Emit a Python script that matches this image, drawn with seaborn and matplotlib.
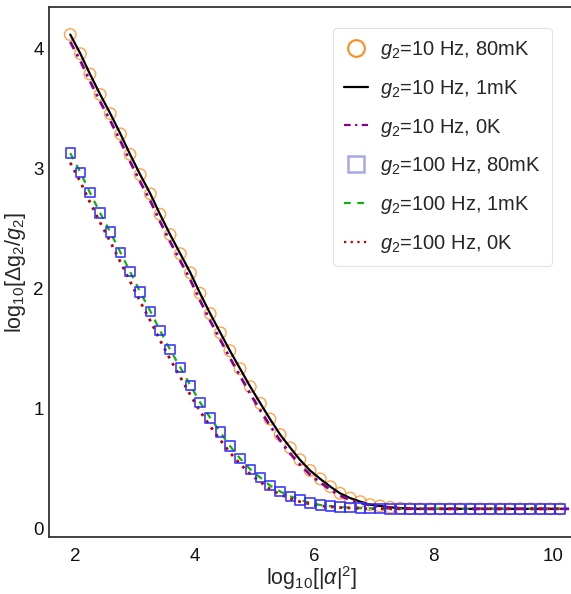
import matplotlib
matplotlib.use("Agg")
import matplotlib.pyplot as plt
from matplotlib.lines import Line2D
import seaborn as sns
import numpy as np

# ---- data ----
x_vals = [1.92, 2.09, 2.25, 2.42, 2.59, 2.76, 2.92, 3.09, 3.26, 3.42,
          3.59, 3.76, 3.93, 4.09, 4.26, 4.43, 4.59, 4.76, 4.93, 5.10,
          5.26, 5.43, 5.60, 5.76, 5.93, 6.10, 6.27, 6.43, 6.60, 6.77,
          6.93, 7.10, 7.27, 7.44, 7.60, 7.77, 7.94, 8.10, 8.27, 8.44,
          8.61, 8.77, 8.94, 9.11, 9.27, 9.44, 9.61, 9.78, 9.94, 10.11]

g10_80mK = [4.12, 3.96, 3.79, 3.62, 3.46, 3.29, 3.12, 2.95, 2.79, 2.62,
            2.45, 2.29, 2.13, 1.96, 1.79, 1.63, 1.48, 1.33, 1.18, 1.04,
            0.91, 0.78, 0.67, 0.57, 0.48, 0.41, 0.345, 0.29, 0.25, 0.22,
            0.195, 0.184, 0.173, 0.166, 0.162, 0.16, 0.16, 0.16, 0.16, 0.16,
            0.16, 0.16, 0.16, 0.16, 0.16, 0.16, 0.16, 0.16, 0.16, 0.16]

g10_1mK = [4.12, 3.96, 3.79, 3.62, 3.46, 3.29, 3.12, 2.95, 2.79, 2.62,
           2.45, 2.29, 2.13, 1.96, 1.79, 1.63, 1.48, 1.33, 1.18, 1.04,
           0.91, 0.78, 0.67, 0.57, 0.48, 0.41, 0.345, 0.29, 0.25, 0.22,
           0.195, 0.184, 0.173, 0.166, 0.162, 0.16, 0.16, 0.16, 0.16, 0.16,
           0.16, 0.16, 0.16, 0.16, 0.16, 0.16, 0.16, 0.16, 0.16, 0.16]

g10_0K = [4.06, 3.90, 3.73, 3.56, 3.40, 3.23, 3.06, 2.89, 2.73, 2.56,
          2.39, 2.23, 2.07, 1.90, 1.73, 1.57, 1.42, 1.27, 1.12, 0.98,
          0.855, 0.73, 0.62, 0.53, 0.445, 0.38, 0.32, 0.27, 0.235, 0.21,
          0.19, 0.178, 0.17, 0.164, 0.161, 0.16, 0.16, 0.16, 0.16, 0.16,
          0.16, 0.16, 0.16, 0.16, 0.16, 0.16, 0.16, 0.16, 0.16, 0.16]

g100_80mK = [3.13, 2.97, 2.80, 2.63, 2.47, 2.30, 2.14, 1.97, 1.81, 1.65,
             1.49, 1.34, 1.19, 1.05, 0.92, 0.80, 0.685, 0.58, 0.49, 0.42,
             0.355, 0.305, 0.265, 0.235, 0.21, 0.192, 0.183, 0.175, 0.17, 0.166,
             0.164, 0.162, 0.16, 0.16, 0.16, 0.16, 0.16, 0.16, 0.16, 0.16,
             0.16, 0.16, 0.16, 0.16, 0.16, 0.16, 0.16, 0.16, 0.16, 0.16]

g100_1mK = [3.13, 2.97, 2.80, 2.63, 2.47, 2.30, 2.14, 1.97, 1.81, 1.65,
            1.49, 1.34, 1.19, 1.05, 0.92, 0.80, 0.685, 0.58, 0.49, 0.42,
            0.355, 0.305, 0.265, 0.235, 0.21, 0.192, 0.183, 0.175, 0.17, 0.166,
            0.164, 0.162, 0.16, 0.16, 0.16, 0.16, 0.16, 0.16, 0.16, 0.16,
            0.16, 0.16, 0.16, 0.16, 0.16, 0.16, 0.16, 0.16, 0.16, 0.16]

g100_0K = [3.05, 2.89, 2.72, 2.55, 2.39, 2.22, 2.06, 1.89, 1.73, 1.57,
           1.41, 1.26, 1.11, 0.975, 0.85, 0.735, 0.63, 0.535, 0.45, 0.385,
           0.325, 0.28, 0.245, 0.22, 0.20, 0.185, 0.177, 0.171, 0.167, 0.164,
           0.162, 0.161, 0.16, 0.16, 0.16, 0.16, 0.16, 0.16, 0.16, 0.16,
           0.16, 0.16, 0.16, 0.16, 0.16, 0.16, 0.16, 0.16, 0.16, 0.16]

# the 0 K line continues a little past the last marker
x_tail = [10.40]
g10_0K_tail = [0.16]

labels = [r"$g_2$=10 Hz, 80mK", r"$g_2$=10 Hz, 1mK", r"$g_2$=10 Hz, 0K",
          r"$g_2$=100 Hz, 80mK", r"$g_2$=100 Hz, 1mK", r"$g_2$=100 Hz, 0K"]

x_ticks = [2, 4, 6, 8, 10]
y_ticks = [0, 1, 2, 3, 4]

# ---- style ----
sns.set_style("white")
plt.rcParams["font.family"] = ["Liberation Sans", "DejaVu Sans"]
plt.rcParams["mathtext.fontset"] = "custom"
plt.rcParams["mathtext.rm"] = "Liberation Sans"
plt.rcParams["mathtext.it"] = "Liberation Sans:italic"
plt.rcParams["mathtext.bf"] = "Liberation Sans:bold"

fig = plt.figure(figsize=(5.71, 5.94), dpi=100)
ax = fig.add_axes([49.3 / 571, 57 / 594, (575 - 49.3) / 571, (537 - 7) / 594])

orange = "#ff8c1a"
blue = "#2a2aff"

sns.lineplot(x=x_vals, y=g10_1mK, ax=ax, color="black", lw=1.6,
             linestyle="-", zorder=3)
sns.lineplot(x=x_vals + x_tail, y=g10_0K + g10_0K_tail, ax=ax, color="#8b008b",
             lw=2.0, linestyle=(0, (3, 2, 1, 2)), zorder=4)
sns.lineplot(x=x_vals, y=g100_1mK, ax=ax, color="#10b010", lw=1.6,
             linestyle=(0, (3, 3)), zorder=3)
sns.lineplot(x=x_vals, y=g100_0K, ax=ax, color="#c00000", lw=2.0,
             linestyle=(0, (1, 2)), zorder=4)

sns.scatterplot(x=x_vals, y=g10_80mK, ax=ax, marker="o", s=8.3 ** 2,
                facecolor="none", edgecolor=orange, linewidth=1.0, alpha=0.8,
                zorder=2)
sns.scatterplot(x=x_vals, y=g100_80mK, ax=ax, marker="s", s=6.8 ** 2,
                facecolor="none", edgecolor=blue, linewidth=1.3, alpha=0.85,
                zorder=5)

ax.set_xlim(1.57, 10.36)
ax.set_ylim(-0.075, 4.35)
ax.set_xticks(x_ticks)
ax.set_yticks(y_ticks)
ax.tick_params(axis="both", length=0, labelsize=13.5, colors="#111111")
ax.tick_params(axis="x", pad=8)
ax.tick_params(axis="y", pad=4)

for side in ["left", "bottom", "top", "right"]:
    ax.spines[side].set_visible(True)
    ax.spines[side].set_color("#333333")
    ax.spines[side].set_linewidth(1.3)

ax.set_xlabel(r"log$_{10}$[|$\alpha$|$^{2}$]", fontsize=15.5, labelpad=-1)
ax.set_ylabel(r"log$_{10}$[$\Delta$g$_2$/$g_2$]", fontsize=15.5, labelpad=4)

handles = [
    Line2D([], [], marker="o", linestyle="none", markersize=12,
           markerfacecolor="none", markeredgecolor=orange, markeredgewidth=1.5),
    Line2D([], [], color="black", lw=1.6, linestyle="-"),
    Line2D([], [], color="#8b008b", lw=1.6, linestyle=(0, (3, 2, 1, 2))),
    Line2D([], [], marker="s", linestyle="none", markersize=12,
           markerfacecolor="none", markeredgecolor="#a8a8e8", markeredgewidth=1.8),
    Line2D([], [], color="#10b010", lw=1.6, linestyle=(0, (3, 3))),
    Line2D([], [], color="#c00000", lw=1.6, linestyle=(0, (1, 2))),
]
leg = ax.legend(handles, labels, loc="upper right",
                bbox_to_anchor=((552 - 49.3) / (575 - 49.3), (537 - 28) / 530),
                borderaxespad=0, fontsize=14.5, frameon=True, fancybox=True,
                labelspacing=0.83, handlelength=1.2, handletextpad=0.6,
                borderpad=0.55)
leg.get_frame().set_edgecolor("#dddddd")
leg.get_frame().set_linewidth(0.8)

fig.savefig("out.png", dpi=100)
